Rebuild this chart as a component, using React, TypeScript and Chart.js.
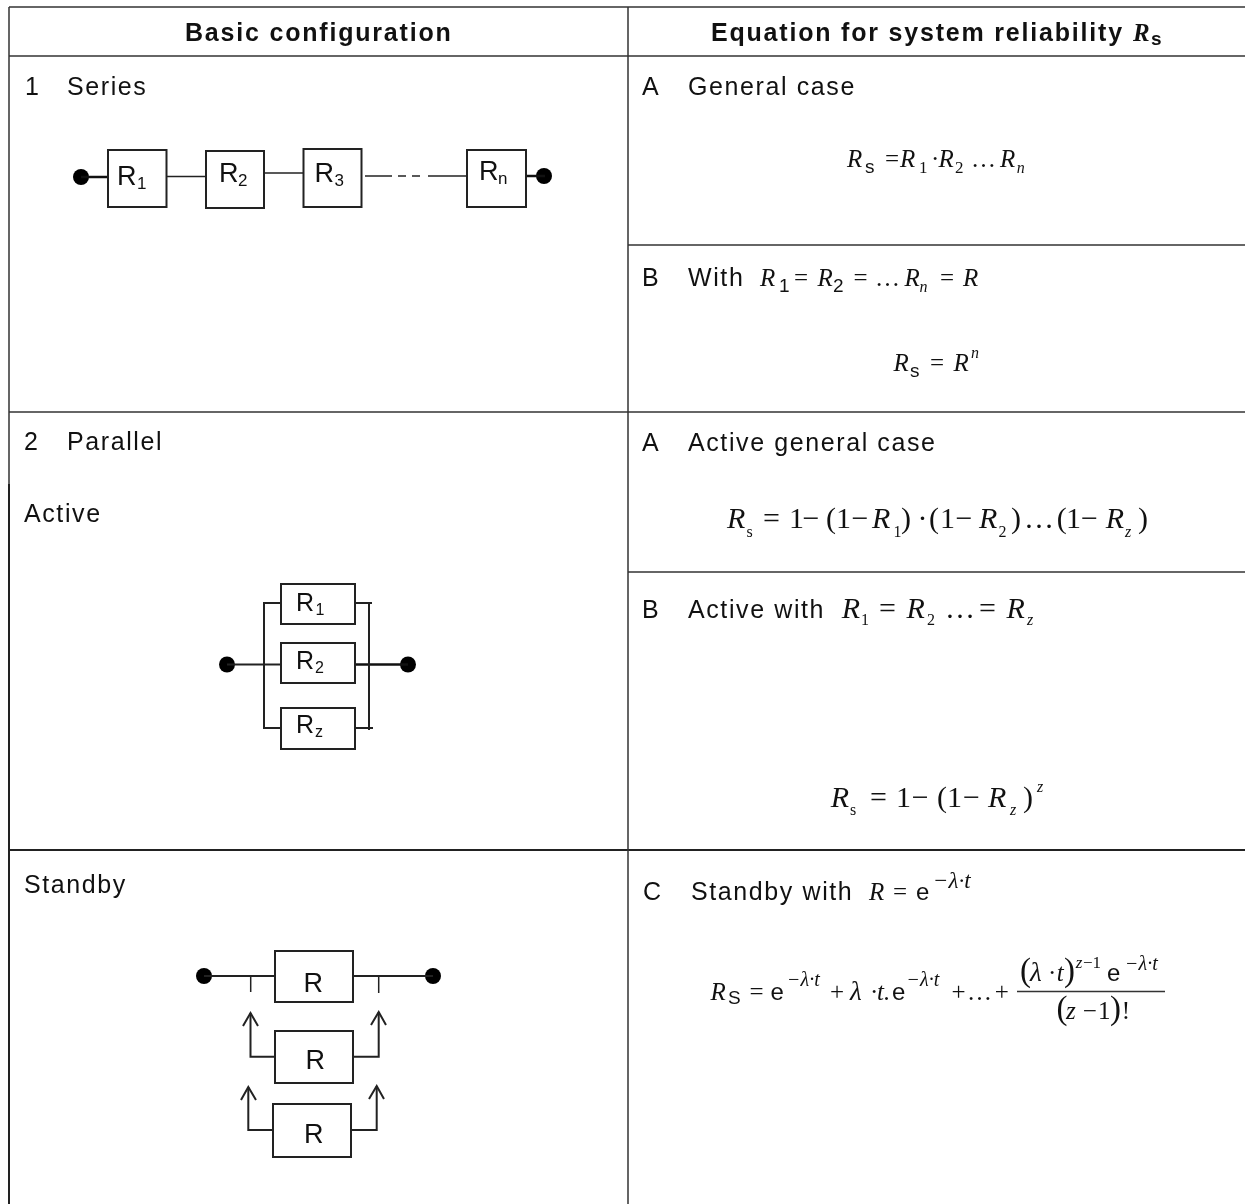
import React, { useEffect, useRef } from "react";
import { Chart, registerables } from "chart.js";

Chart.register(...registerables);

type P = [number, number];
type Run = [string, number, number];

// ---------- table rules ----------
const tableRulesThin: P[][] = [
  [[9, 7], [1245, 7]],
  [[9, 56], [1245, 56]],
  [[9, 412], [1245, 412]],
  [[628, 245], [1245, 245]],
  [[628, 572], [1245, 572]],
  [[9, 7], [9, 484]],
  [[628, 7], [628, 1204]],
];
const tableRulesThick: P[][] = [
  [[9, 850], [1245, 850]],
  [[9, 484], [9, 1204]],
];

// ---------- diagram boxes [x0, y0, x1, y1] ----------
const boxes: [number, number, number, number][] = [
  [108, 150, 166.5, 207],
  [206, 151, 264, 208],
  [303.5, 149, 361.5, 207],
  [467, 150, 526, 207],
  [281, 584, 355, 624],
  [281, 643, 355, 683],
  [281, 708, 355, 749],
  [275, 951, 353, 1002],
  [275, 1031, 353, 1083],
  [273, 1104, 351, 1157],
];

// ---------- diagram wires ----------
const wiresThin: P[][] = [
  [[166.5, 176.5], [206, 176.5]],
  [[264, 173], [304, 173]],
  [[365, 176], [392, 176]],
  [[398, 176], [406, 176]],
  [[412, 176], [420, 176]],
  [[428, 176], [467, 176]],
  [[250.7, 976], [250.7, 992]],
  [[378.7, 976], [378.7, 993]],
];
const wiresMedium: P[][] = [
  [[281, 603], [264, 603], [264, 728], [281, 728]],
  [[264, 664.5], [281, 664.5]],
  [[227, 664.5], [264, 664.5]],
  [[355, 603], [372, 603]],
  [[369, 603], [369, 730]],
  [[355, 728], [373, 728]],
  [[275, 976], [204, 976]],
  [[353, 976], [433, 976]],
  [[275, 1056.7], [250.5, 1056.7], [250.5, 1013]],
  [[353, 1056.7], [378.7, 1056.7], [378.7, 1012]],
  [[273, 1130], [248.3, 1130], [248.3, 1087]],
  [[351, 1130], [376.7, 1130], [376.7, 1086]],
  [[243, 1026], [250.5, 1013], [258, 1026]],
  [[371, 1025], [378.7, 1012], [386, 1025]],
  [[241, 1100], [248.3, 1087], [256, 1100]],
  [[369, 1099], [376.7, 1086], [384, 1099]],
];
const wiresHeavy: P[][] = [
  [[81, 177], [108, 177]],
  [[526, 176], [545, 176]],
  [[355, 664.5], [408, 664.5]],
];
const fractionRule: P[][] = [[[1017, 991.5], [1165, 991.5]]];

// ---------- terminal dots ----------
const terminals: P[] = [
  [81, 177], [544, 176], [227, 664.5], [408, 664.5], [204, 976], [433, 976],
];

// ---------- text, by style ----------
const headerText: Run[] = [
  ["Basic configuration", 185, 41],
  ["Equation for system reliability", 711, 41],
];
const headerSymbol: Run[] = [["R", 1133, 41]];
const headerSub: Run[] = [["s", 1151, 45]];
const bodyText: Run[] = [
  ["1", 25, 95], ["Series", 67, 95],
  ["2", 24, 450], ["Parallel", 67, 450],
  ["Active", 24, 522], ["Standby", 24, 893],
  ["A", 642, 95], ["General case", 688, 95],
  ["B", 642, 286], ["With", 688, 286],
  ["A", 642, 451], ["Active general case", 688, 451],
  ["B", 642, 618], ["Active with", 688, 618],
  ["C", 643, 900], ["Standby with", 691, 900],
];
const diagramR: Run[] = [
  ["R", 117, 185], ["R", 219, 182], ["R", 314.5, 182], ["R", 479, 180],
  ["R", 303.5, 992], ["R", 305.5, 1069], ["R", 304, 1143],
];
const diagramRSub: Run[] = [
  ["1", 137, 189], ["2", 238, 186], ["3", 334.5, 186], ["n", 498, 184],
];
const parallelR: Run[] = [["R", 296, 611], ["R", 296, 669], ["R", 296, 733]];
const parallelSub: Run[] = [["1", 315.5, 615], ["2", 315, 673], ["z", 315, 737]];

const mathItalicM: Run[] = [
  ["R", 847, 167], ["R", 900, 167], ["R", 938.5, 167], ["R", 1000, 167],
  ["R", 760, 286], ["R", 817.5, 286], ["R", 904.5, 286], ["R", 963, 286],
  ["R", 893.5, 371], ["R", 953.5, 371],
  ["R", 869, 900], ["R", 710.4, 1000],
  ["t.", 877, 1000],
  ["t", 1056.7, 981],
  ["z", 1066, 1019],
];
const mathLambda: Run[] = [["λ", 850, 1000], ["λ", 1030, 981]];
const mathRomanM: Run[] = [
  ["=", 885, 167], ["·", 931, 167], ["…", 971, 167],
  ["=", 794, 286], ["=", 853.5, 286], ["…", 875, 286], ["=", 940, 286],
  ["=", 930, 371],
  ["=", 893, 900],
  ["=", 749.6, 1000], ["+", 830, 1000], ["·", 870, 1000], ["+", 951.6, 1000],
  ["…", 967, 1000], ["+", 994.7, 1000],
  ["·", 1048, 981],
  ["−", 1082.7, 1019], ["1", 1098, 1019], ["!", 1121.7, 1019],
];
const fractionParens: Run[] = [
  ["(", 1020, 981], [")", 1064, 981], ["(", 1056.5, 1019], [")", 1110, 1019],
];
const mathSubRoman: Run[] = [
  ["1", 919, 173], ["2", 955, 173],
];
const mathSubItalic: Run[] = [
  ["n", 1016.7, 173], ["n", 919.4, 292], ["n", 971, 358],
];
const mathSubSans: Run[] = [
  ["s", 865, 173], ["1", 779, 292], ["2", 833, 292], ["s", 910, 377], ["S", 728, 1004],
];
const mathItalicL: Run[] = [
  ["R", 727, 528], ["R", 872, 528], ["R", 979, 528], ["R", 1105.7, 528],
  ["R", 841.8, 618], ["R", 906.5, 618], ["R", 1006.5, 618],
  ["R", 830.7, 807], ["R", 988, 807],
];
const mathRomanL: Run[] = [
  ["=", 763, 528], ["1", 789, 528], ["−", 802.5, 528], ["(", 826, 528], ["1", 836, 528],
  ["−", 851.6, 528], [")", 901, 528], ["·", 917.5, 528], ["(", 929, 528], ["1", 940, 528],
  ["−", 955.5, 528], [")", 1011, 528], ["…", 1024, 528], ["(", 1056.7, 528], ["1", 1066, 528],
  ["−", 1081, 528], [")", 1138, 528],
  ["=", 879, 618], ["…", 945, 618], ["=", 979, 618],
  ["=", 870, 807], ["1", 896, 807], ["−", 911.7, 807], ["(", 937, 807], ["1", 947, 807],
  ["−", 963, 807], [")", 1023, 807],
];
const mathLargeSubRoman: Run[] = [
  ["s", 746.5, 537], ["1", 893.5, 537], ["2", 998.6, 537],
  ["1", 861, 625], ["2", 927, 625], ["s", 850, 815],
];
const mathLargeSubItalic: Run[] = [
  ["z", 1125, 537], ["z", 1027, 625], ["z", 1010, 815], ["z", 1037, 792],
];
const exponentE: Run[] = [
  ["e", 916, 900], ["e", 770.4, 1000], ["e", 892, 1000], ["e", 1107, 981],
];
const exponentLarge: Run[] = [["−λ·t", 933, 888]];
const exponentSmall: Run[] = [
  ["−λ·t", 787, 986], ["−λ·t", 906.5, 986], ["−λ·t", 1125, 970],
];
const exponentPower: Run[] = [["z", 1075.7, 968]];
const exponentPowerRoman: Run[] = [["−1", 1083, 968]];

const SANS = '"Liberation Sans"';
const SERIF = '"Liberation Serif"';
const textLayers: { runs: Run[]; font: string; spacing?: string }[] = [
  { runs: headerText, font: `bold 25px ${SANS}`, spacing: "1.8px" },
  { runs: headerSymbol, font: `italic bold 25px ${SERIF}` },
  { runs: headerSub, font: `bold 19px ${SANS}` },
  { runs: bodyText, font: `25px ${SANS}`, spacing: "1.6px" },
  { runs: diagramR, font: `27px ${SANS}` },
  { runs: diagramRSub, font: `17px ${SANS}` },
  { runs: parallelR, font: `25px ${SANS}` },
  { runs: parallelSub, font: `16px ${SANS}` },
  { runs: mathItalicM, font: `italic 25px ${SERIF}` },
  { runs: mathLambda, font: `italic 27px ${SERIF}` },
  { runs: mathRomanM, font: `25px ${SERIF}` },
  { runs: fractionParens, font: `33px ${SERIF}` },
  { runs: mathSubRoman, font: `17px ${SERIF}` },
  { runs: mathSubItalic, font: `italic 16px ${SERIF}` },
  { runs: mathSubSans, font: `19px ${SANS}` },
  { runs: mathItalicL, font: `italic 30px ${SERIF}` },
  { runs: mathRomanL, font: `30px ${SERIF}` },
  { runs: mathLargeSubRoman, font: `16px ${SERIF}` },
  { runs: mathLargeSubItalic, font: `italic 16px ${SERIF}` },
  { runs: exponentE, font: `24px ${SANS}` },
  { runs: exponentLarge, font: `italic 23px ${SERIF}` },
  { runs: exponentSmall, font: `italic 20px ${SERIF}` },
  { runs: exponentPower, font: `italic 17px ${SERIF}` },
  { runs: exponentPowerRoman, font: `17px ${SERIF}` },
];

const lineDataset = (pts: P[], width: number, color: string, cap = "butt") => ({
  data: pts.map(([x, y]) => ({ x, y })),
  showLine: true,
  borderColor: color,
  borderWidth: width,
  borderCapStyle: cap,
  pointRadius: 0,
  tension: 0,
  fill: false,
  clip: false,
});

const boxPath = ([a, b, c, d]: [number, number, number, number]): P[] => [
  [a, b], [c, b], [c, d], [a, d], [a, b],
];

const textPlugin = {
  id: "tableText",
  afterDatasetsDraw(chart: any) {
    const { ctx, scales } = chart;
    ctx.save();
    ctx.fillStyle = "#111";
    ctx.textBaseline = "alphabetic";
    ctx.textAlign = "left";
    for (const layer of textLayers) {
      ctx.font = layer.font;
      (ctx as any).letterSpacing = layer.spacing ?? "0px";
      for (const [t, x, y] of layer.runs) {
        ctx.fillText(t, scales.x.getPixelForValue(x), scales.y.getPixelForValue(y));
      }
    }
    ctx.restore();
  },
};

export default function App() {
  const ref = useRef<HTMLCanvasElement>(null);
  useEffect(() => {
    if (!ref.current) return;
    const datasets: any[] = [
      ...tableRulesThin.map((p) => lineDataset(p, 1.5, "#333")),
      ...tableRulesThick.map((p) => lineDataset(p, 2, "#222")),
      ...boxes.map((b) => lineDataset(boxPath(b), 2, "#222", "square")),
      ...wiresThin.map((p) => lineDataset(p, 1.5, "#222")),
      ...wiresMedium.map((p) => lineDataset(p, 2, "#222")),
      ...wiresHeavy.map((p) => lineDataset(p, 2.5, "#111")),
      ...fractionRule.map((p) => lineDataset(p, 1.5, "#333")),
      {
        data: terminals.map(([x, y]) => ({ x, y })),
        showLine: false,
        pointRadius: 8,
        pointBorderWidth: 0,
        pointBackgroundColor: "#000",
        clip: false,
      },
    ];
    const chart = new Chart(ref.current, {
      type: "scatter",
      data: { datasets },
      options: {
        animation: false,
        responsive: false,
        events: [],
        layout: { padding: 0, autoPadding: false },
        plugins: { legend: { display: false }, tooltip: { enabled: false }, title: { display: false } },
        scales: {
          x: { type: "linear", min: 0, max: 1245, display: false },
          y: { type: "linear", min: 0, max: 1204, reverse: true, display: false },
        },
      },
      plugins: [textPlugin],
    } as any);
    return () => chart.destroy();
  }, []);
  return (
    <canvas
      ref={ref}
      width={1245}
      height={1204}
      style={{ position: "absolute", left: 0, top: 0, width: 1245, height: 1204, display: "block" }}
    />
  );
}
